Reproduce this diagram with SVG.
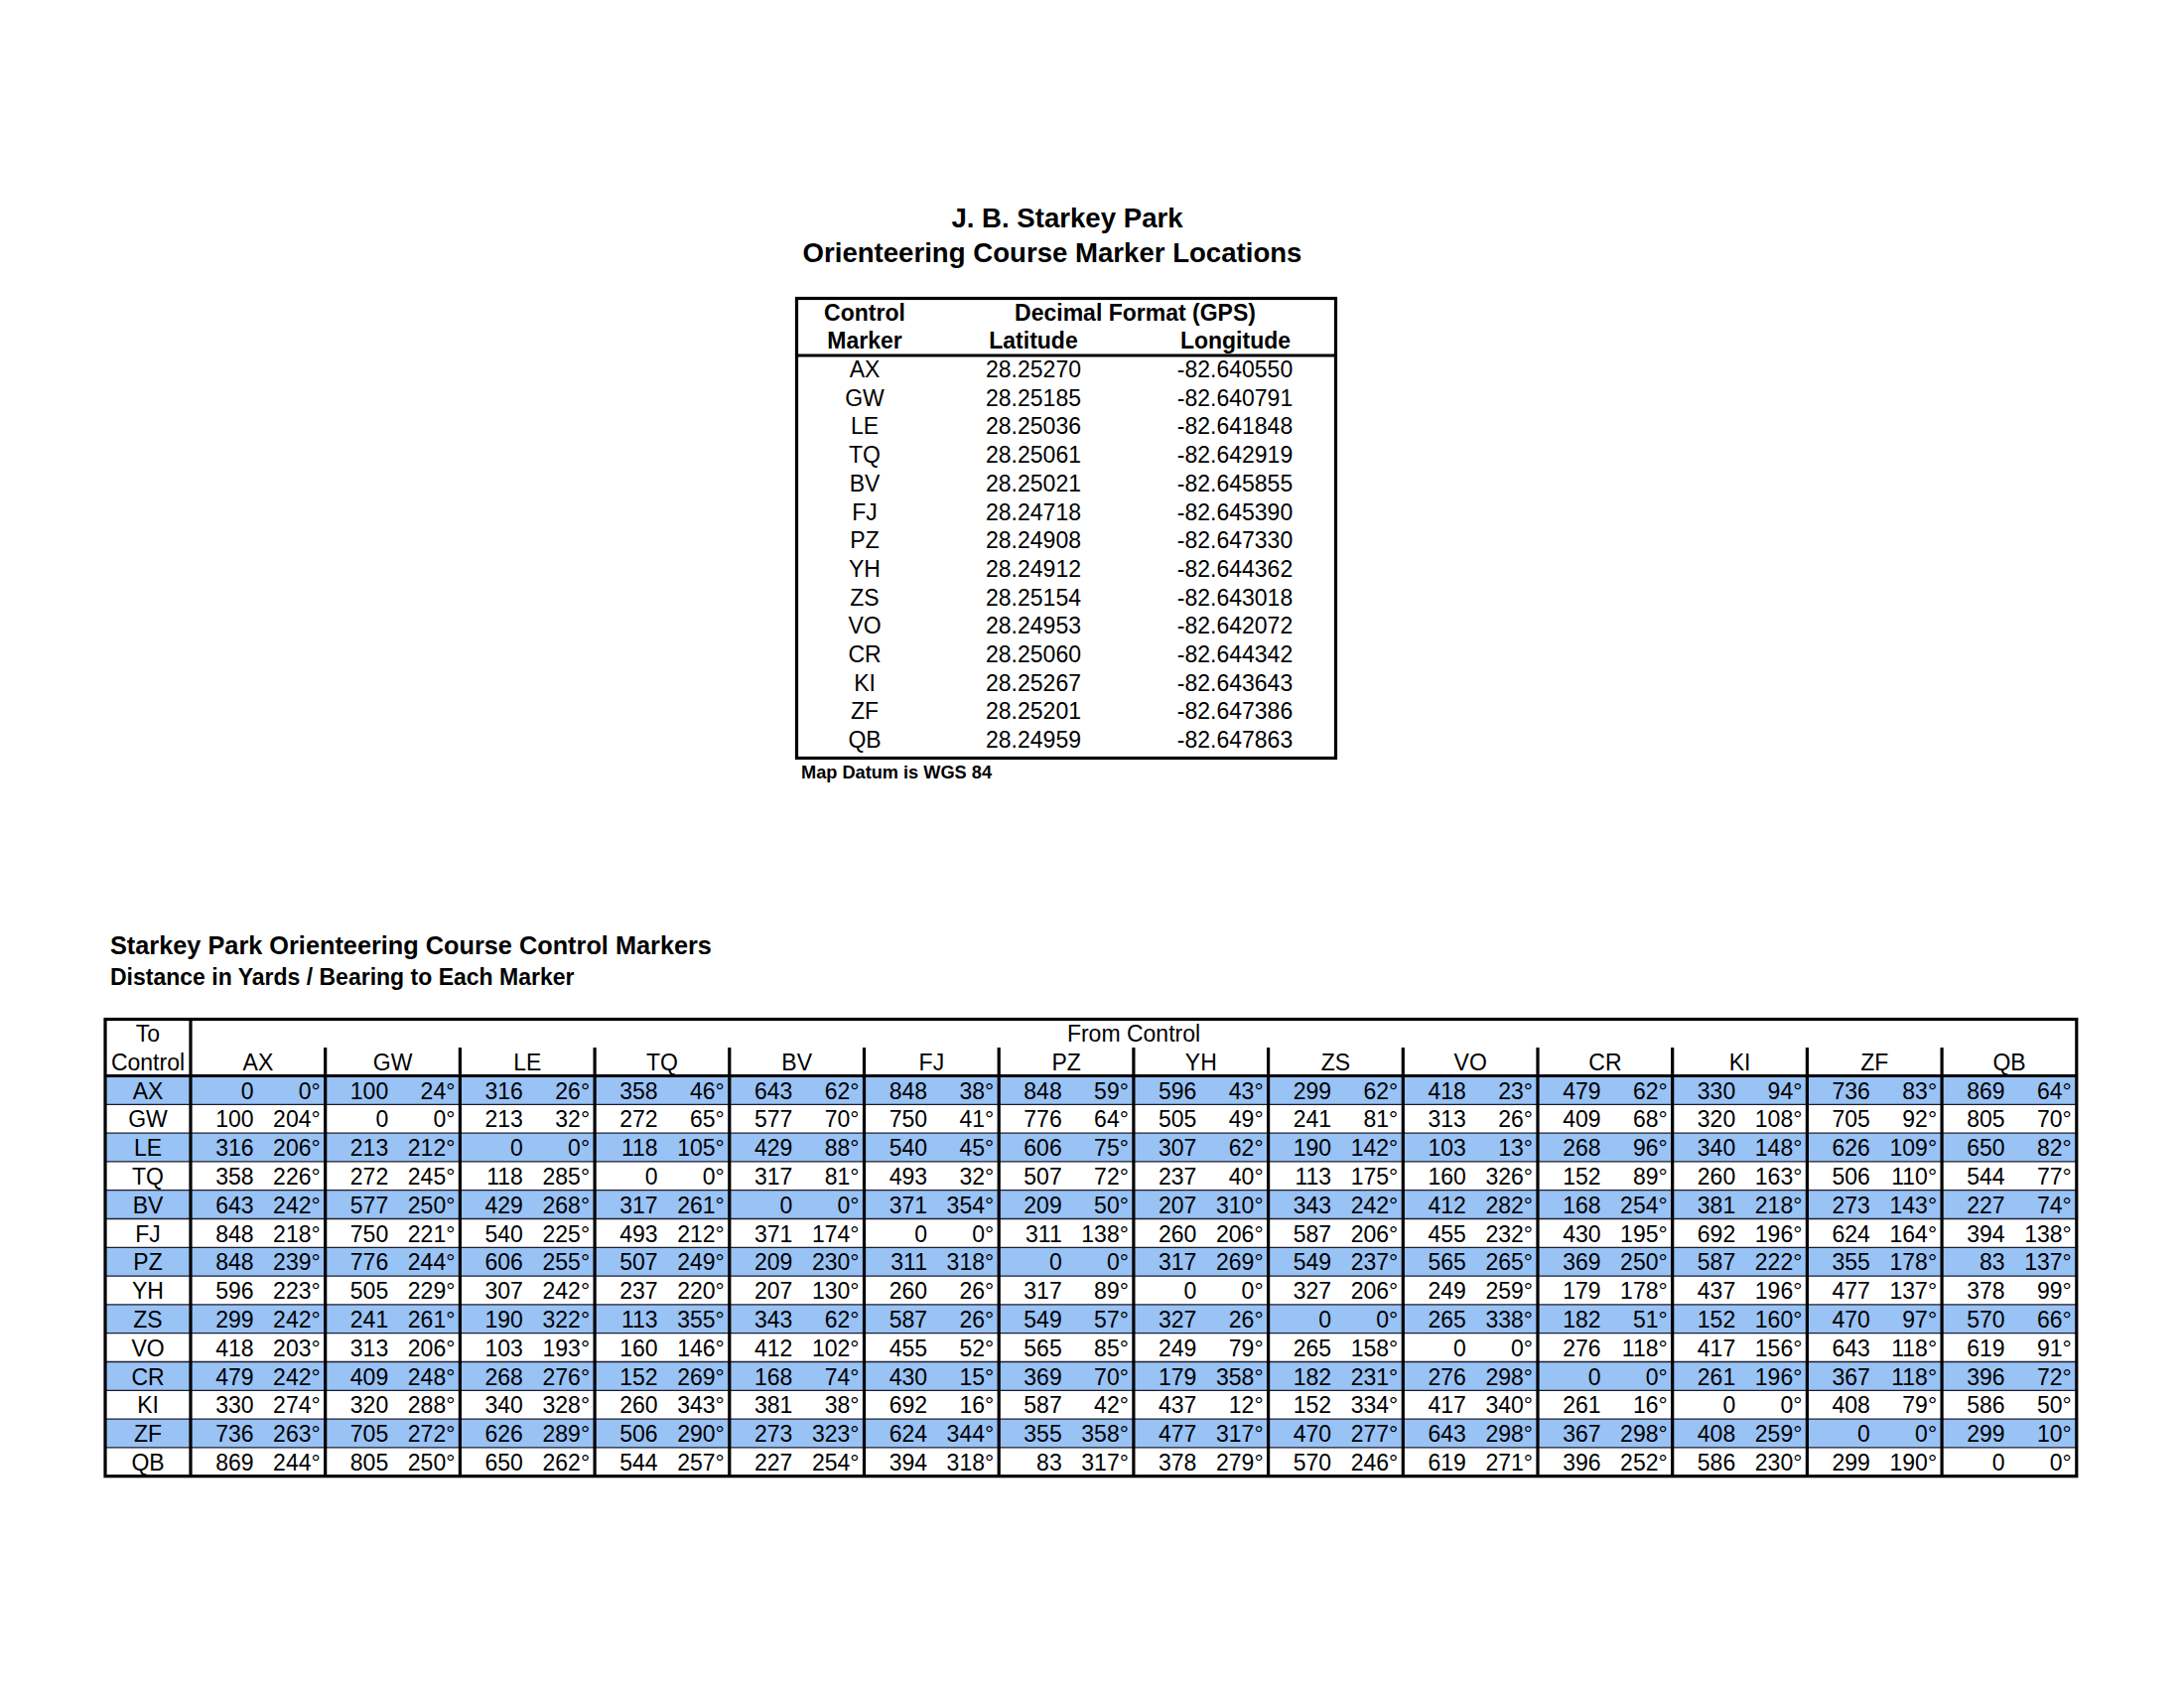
<svg xmlns="http://www.w3.org/2000/svg" width="2200" height="1699" viewBox="0 0 2200 1699">
<style>
text{font-family:"Liberation Sans",Arial,sans-serif;fill:#000}
.t1{font-size:27.6px;font-weight:bold;text-anchor:middle}
.t2{font-size:25.3px;font-weight:bold}
.t3{font-size:23px;font-weight:bold}
.hb{font-size:23px;font-weight:bold;text-anchor:middle}
.c{font-size:23px;text-anchor:middle}
.d{font-size:23px;text-anchor:end}
.sm{font-size:18.2px;font-weight:bold}
.blue{fill:#99C2F5}
.thin{stroke:#1c1c2c;stroke-width:1.3;fill:none}
.thick{stroke:#000;stroke-width:3.2;fill:none}
</style>
<rect width="2200" height="1699" fill="#fff"/>

<g id="title">
<text class="t1" x="1075" y="229">J. B. Starkey Park</text>
<text class="t1" x="1060" y="264">Orienteering Course Marker Locations</text>
</g>

<g id="location-table">
<rect class="thick" x="802.5" y="300.5" width="543" height="463"/>
<line class="thick" x1="802.5" y1="358" x2="1345.5" y2="358"/>
<text class="hb" x="871" y="322.5">Control</text>
<text class="hb" x="1143.5" y="322.5">Decimal Format (GPS)</text>
<text class="hb" x="871" y="351">Marker</text>
<text class="hb" x="1041" y="351">Latitude</text>
<text class="hb" x="1244.5" y="351">Longitude</text>
<g id="loc-rows">
<text class="c" y="380"><tspan x="871">AX</tspan><tspan x="1041">28.25270</tspan><tspan x="1244">-82.640550</tspan></text>
<text class="c" y="408.7"><tspan x="871">GW</tspan><tspan x="1041">28.25185</tspan><tspan x="1244">-82.640791</tspan></text>
<text class="c" y="437.4"><tspan x="871">LE</tspan><tspan x="1041">28.25036</tspan><tspan x="1244">-82.641848</tspan></text>
<text class="c" y="466.1"><tspan x="871">TQ</tspan><tspan x="1041">28.25061</tspan><tspan x="1244">-82.642919</tspan></text>
<text class="c" y="494.8"><tspan x="871">BV</tspan><tspan x="1041">28.25021</tspan><tspan x="1244">-82.645855</tspan></text>
<text class="c" y="523.5"><tspan x="871">FJ</tspan><tspan x="1041">28.24718</tspan><tspan x="1244">-82.645390</tspan></text>
<text class="c" y="552.2"><tspan x="871">PZ</tspan><tspan x="1041">28.24908</tspan><tspan x="1244">-82.647330</tspan></text>
<text class="c" y="580.9"><tspan x="871">YH</tspan><tspan x="1041">28.24912</tspan><tspan x="1244">-82.644362</tspan></text>
<text class="c" y="609.6"><tspan x="871">ZS</tspan><tspan x="1041">28.25154</tspan><tspan x="1244">-82.643018</tspan></text>
<text class="c" y="638.3"><tspan x="871">VO</tspan><tspan x="1041">28.24953</tspan><tspan x="1244">-82.642072</tspan></text>
<text class="c" y="667"><tspan x="871">CR</tspan><tspan x="1041">28.25060</tspan><tspan x="1244">-82.644342</tspan></text>
<text class="c" y="695.7"><tspan x="871">KI</tspan><tspan x="1041">28.25267</tspan><tspan x="1244">-82.643643</tspan></text>
<text class="c" y="724.4"><tspan x="871">ZF</tspan><tspan x="1041">28.25201</tspan><tspan x="1244">-82.647386</tspan></text>
<text class="c" y="753.1"><tspan x="871">QB</tspan><tspan x="1041">28.24959</tspan><tspan x="1244">-82.647863</tspan></text>
</g>
<text class="sm" x="807" y="784">Map Datum is WGS 84</text>
</g>

<g id="distance-title">
<text class="t2" x="111" y="961">Starkey Park Orienteering Course Control Markers</text>
<text class="t3" x="111" y="992">Distance in Yards / Bearing to Each Marker</text>
</g>

<g id="distance-table">
<g id="stripes">
<rect class="blue" x="106" y="1083.5" width="1986" height="28.8"/>
<rect class="blue" x="106" y="1141.1" width="1986" height="28.8"/>
<rect class="blue" x="106" y="1198.7" width="1986" height="28.8"/>
<rect class="blue" x="106" y="1256.3" width="1986" height="28.8"/>
<rect class="blue" x="106" y="1313.9" width="1986" height="28.8"/>
<rect class="blue" x="106" y="1371.5" width="1986" height="28.8"/>
<rect class="blue" x="106" y="1429.1" width="1986" height="28.8"/>
</g>
<g id="row-lines">
<path class="thin" d="M106 1112.3H2092M106 1141.1H2092M106 1169.9H2092M106 1198.7H2092M106 1227.5H2092M106 1256.3H2092M106 1285.1H2092M106 1313.9H2092M106 1342.7H2092M106 1371.5H2092M106 1400.3H2092M106 1429.1H2092M106 1457.9H2092"/>
</g>
<g id="grid">
<rect class="thick" x="106" y="1026.5" width="1985.8" height="460.2"/>
<line class="thick" x1="106" y1="1083.5" x2="2092" y2="1083.5"/>
<path class="thick" d="M192 1026.5V1486.7M327.7 1055V1486.7M463.4 1055V1486.7M599.1 1055V1486.7M734.8 1055V1486.7M870.5 1055V1486.7M1006.2 1055V1486.7M1141.9 1055V1486.7M1277.6 1055V1486.7M1413.3 1055V1486.7M1549 1055V1486.7M1684.7 1055V1486.7M1820.4 1055V1486.7M1956.1 1055V1486.7"/>
</g>
<g id="headers">
<text class="c" x="149" y="1049">To</text>
<text class="c" x="1142" y="1049">From Control</text>
<text class="c" x="149" y="1078">Control</text>
<text class="c" y="1078"><tspan x="259.9">AX</tspan><tspan x="395.6">GW</tspan><tspan x="531.3">LE</tspan><tspan x="667">TQ</tspan><tspan x="802.7">BV</tspan><tspan x="938.4">FJ</tspan><tspan x="1074.1">PZ</tspan><tspan x="1209.8">YH</tspan><tspan x="1345.5">ZS</tspan><tspan x="1481.2">VO</tspan><tspan x="1616.9">CR</tspan><tspan x="1752.6">KI</tspan><tspan x="1888.3">ZF</tspan><tspan x="2024">QB</tspan></text>
</g>
<g id="row-labels">
<text class="c" x="149" y="1106.5">AX</text>
<text class="c" x="149" y="1135.3">GW</text>
<text class="c" x="149" y="1164.1">LE</text>
<text class="c" x="149" y="1192.9">TQ</text>
<text class="c" x="149" y="1221.7">BV</text>
<text class="c" x="149" y="1250.5">FJ</text>
<text class="c" x="149" y="1279.3">PZ</text>
<text class="c" x="149" y="1308.1">YH</text>
<text class="c" x="149" y="1336.9">ZS</text>
<text class="c" x="149" y="1365.7">VO</text>
<text class="c" x="149" y="1394.5">CR</text>
<text class="c" x="149" y="1423.3">KI</text>
<text class="c" x="149" y="1452.1">ZF</text>
<text class="c" x="149" y="1480.9">QB</text>
</g>
<g id="cells">
<text class="d" y="1106.5"><tspan x="255.5">0</tspan><tspan x="322.7">0°</tspan><tspan x="391.2">100</tspan><tspan x="458.4">24°</tspan><tspan x="526.9">316</tspan><tspan x="594.1">26°</tspan><tspan x="662.6">358</tspan><tspan x="729.8">46°</tspan><tspan x="798.3">643</tspan><tspan x="865.5">62°</tspan><tspan x="934">848</tspan><tspan x="1001.2">38°</tspan><tspan x="1069.7">848</tspan><tspan x="1136.9">59°</tspan><tspan x="1205.4">596</tspan><tspan x="1272.6">43°</tspan><tspan x="1341.1">299</tspan><tspan x="1408.3">62°</tspan><tspan x="1476.8">418</tspan><tspan x="1544">23°</tspan><tspan x="1612.5">479</tspan><tspan x="1679.7">62°</tspan><tspan x="1748.2">330</tspan><tspan x="1815.4">94°</tspan><tspan x="1883.9">736</tspan><tspan x="1951.1">83°</tspan><tspan x="2019.6">869</tspan><tspan x="2086.8">64°</tspan></text>
<text class="d" y="1135.3"><tspan x="255.5">100</tspan><tspan x="322.7">204°</tspan><tspan x="391.2">0</tspan><tspan x="458.4">0°</tspan><tspan x="526.9">213</tspan><tspan x="594.1">32°</tspan><tspan x="662.6">272</tspan><tspan x="729.8">65°</tspan><tspan x="798.3">577</tspan><tspan x="865.5">70°</tspan><tspan x="934">750</tspan><tspan x="1001.2">41°</tspan><tspan x="1069.7">776</tspan><tspan x="1136.9">64°</tspan><tspan x="1205.4">505</tspan><tspan x="1272.6">49°</tspan><tspan x="1341.1">241</tspan><tspan x="1408.3">81°</tspan><tspan x="1476.8">313</tspan><tspan x="1544">26°</tspan><tspan x="1612.5">409</tspan><tspan x="1679.7">68°</tspan><tspan x="1748.2">320</tspan><tspan x="1815.4">108°</tspan><tspan x="1883.9">705</tspan><tspan x="1951.1">92°</tspan><tspan x="2019.6">805</tspan><tspan x="2086.8">70°</tspan></text>
<text class="d" y="1164.1"><tspan x="255.5">316</tspan><tspan x="322.7">206°</tspan><tspan x="391.2">213</tspan><tspan x="458.4">212°</tspan><tspan x="526.9">0</tspan><tspan x="594.1">0°</tspan><tspan x="662.6">118</tspan><tspan x="729.8">105°</tspan><tspan x="798.3">429</tspan><tspan x="865.5">88°</tspan><tspan x="934">540</tspan><tspan x="1001.2">45°</tspan><tspan x="1069.7">606</tspan><tspan x="1136.9">75°</tspan><tspan x="1205.4">307</tspan><tspan x="1272.6">62°</tspan><tspan x="1341.1">190</tspan><tspan x="1408.3">142°</tspan><tspan x="1476.8">103</tspan><tspan x="1544">13°</tspan><tspan x="1612.5">268</tspan><tspan x="1679.7">96°</tspan><tspan x="1748.2">340</tspan><tspan x="1815.4">148°</tspan><tspan x="1883.9">626</tspan><tspan x="1951.1">109°</tspan><tspan x="2019.6">650</tspan><tspan x="2086.8">82°</tspan></text>
<text class="d" y="1192.9"><tspan x="255.5">358</tspan><tspan x="322.7">226°</tspan><tspan x="391.2">272</tspan><tspan x="458.4">245°</tspan><tspan x="526.9">118</tspan><tspan x="594.1">285°</tspan><tspan x="662.6">0</tspan><tspan x="729.8">0°</tspan><tspan x="798.3">317</tspan><tspan x="865.5">81°</tspan><tspan x="934">493</tspan><tspan x="1001.2">32°</tspan><tspan x="1069.7">507</tspan><tspan x="1136.9">72°</tspan><tspan x="1205.4">237</tspan><tspan x="1272.6">40°</tspan><tspan x="1341.1">113</tspan><tspan x="1408.3">175°</tspan><tspan x="1476.8">160</tspan><tspan x="1544">326°</tspan><tspan x="1612.5">152</tspan><tspan x="1679.7">89°</tspan><tspan x="1748.2">260</tspan><tspan x="1815.4">163°</tspan><tspan x="1883.9">506</tspan><tspan x="1951.1">110°</tspan><tspan x="2019.6">544</tspan><tspan x="2086.8">77°</tspan></text>
<text class="d" y="1221.7"><tspan x="255.5">643</tspan><tspan x="322.7">242°</tspan><tspan x="391.2">577</tspan><tspan x="458.4">250°</tspan><tspan x="526.9">429</tspan><tspan x="594.1">268°</tspan><tspan x="662.6">317</tspan><tspan x="729.8">261°</tspan><tspan x="798.3">0</tspan><tspan x="865.5">0°</tspan><tspan x="934">371</tspan><tspan x="1001.2">354°</tspan><tspan x="1069.7">209</tspan><tspan x="1136.9">50°</tspan><tspan x="1205.4">207</tspan><tspan x="1272.6">310°</tspan><tspan x="1341.1">343</tspan><tspan x="1408.3">242°</tspan><tspan x="1476.8">412</tspan><tspan x="1544">282°</tspan><tspan x="1612.5">168</tspan><tspan x="1679.7">254°</tspan><tspan x="1748.2">381</tspan><tspan x="1815.4">218°</tspan><tspan x="1883.9">273</tspan><tspan x="1951.1">143°</tspan><tspan x="2019.6">227</tspan><tspan x="2086.8">74°</tspan></text>
<text class="d" y="1250.5"><tspan x="255.5">848</tspan><tspan x="322.7">218°</tspan><tspan x="391.2">750</tspan><tspan x="458.4">221°</tspan><tspan x="526.9">540</tspan><tspan x="594.1">225°</tspan><tspan x="662.6">493</tspan><tspan x="729.8">212°</tspan><tspan x="798.3">371</tspan><tspan x="865.5">174°</tspan><tspan x="934">0</tspan><tspan x="1001.2">0°</tspan><tspan x="1069.7">311</tspan><tspan x="1136.9">138°</tspan><tspan x="1205.4">260</tspan><tspan x="1272.6">206°</tspan><tspan x="1341.1">587</tspan><tspan x="1408.3">206°</tspan><tspan x="1476.8">455</tspan><tspan x="1544">232°</tspan><tspan x="1612.5">430</tspan><tspan x="1679.7">195°</tspan><tspan x="1748.2">692</tspan><tspan x="1815.4">196°</tspan><tspan x="1883.9">624</tspan><tspan x="1951.1">164°</tspan><tspan x="2019.6">394</tspan><tspan x="2086.8">138°</tspan></text>
<text class="d" y="1279.3"><tspan x="255.5">848</tspan><tspan x="322.7">239°</tspan><tspan x="391.2">776</tspan><tspan x="458.4">244°</tspan><tspan x="526.9">606</tspan><tspan x="594.1">255°</tspan><tspan x="662.6">507</tspan><tspan x="729.8">249°</tspan><tspan x="798.3">209</tspan><tspan x="865.5">230°</tspan><tspan x="934">311</tspan><tspan x="1001.2">318°</tspan><tspan x="1069.7">0</tspan><tspan x="1136.9">0°</tspan><tspan x="1205.4">317</tspan><tspan x="1272.6">269°</tspan><tspan x="1341.1">549</tspan><tspan x="1408.3">237°</tspan><tspan x="1476.8">565</tspan><tspan x="1544">265°</tspan><tspan x="1612.5">369</tspan><tspan x="1679.7">250°</tspan><tspan x="1748.2">587</tspan><tspan x="1815.4">222°</tspan><tspan x="1883.9">355</tspan><tspan x="1951.1">178°</tspan><tspan x="2019.6">83</tspan><tspan x="2086.8">137°</tspan></text>
<text class="d" y="1308.1"><tspan x="255.5">596</tspan><tspan x="322.7">223°</tspan><tspan x="391.2">505</tspan><tspan x="458.4">229°</tspan><tspan x="526.9">307</tspan><tspan x="594.1">242°</tspan><tspan x="662.6">237</tspan><tspan x="729.8">220°</tspan><tspan x="798.3">207</tspan><tspan x="865.5">130°</tspan><tspan x="934">260</tspan><tspan x="1001.2">26°</tspan><tspan x="1069.7">317</tspan><tspan x="1136.9">89°</tspan><tspan x="1205.4">0</tspan><tspan x="1272.6">0°</tspan><tspan x="1341.1">327</tspan><tspan x="1408.3">206°</tspan><tspan x="1476.8">249</tspan><tspan x="1544">259°</tspan><tspan x="1612.5">179</tspan><tspan x="1679.7">178°</tspan><tspan x="1748.2">437</tspan><tspan x="1815.4">196°</tspan><tspan x="1883.9">477</tspan><tspan x="1951.1">137°</tspan><tspan x="2019.6">378</tspan><tspan x="2086.8">99°</tspan></text>
<text class="d" y="1336.9"><tspan x="255.5">299</tspan><tspan x="322.7">242°</tspan><tspan x="391.2">241</tspan><tspan x="458.4">261°</tspan><tspan x="526.9">190</tspan><tspan x="594.1">322°</tspan><tspan x="662.6">113</tspan><tspan x="729.8">355°</tspan><tspan x="798.3">343</tspan><tspan x="865.5">62°</tspan><tspan x="934">587</tspan><tspan x="1001.2">26°</tspan><tspan x="1069.7">549</tspan><tspan x="1136.9">57°</tspan><tspan x="1205.4">327</tspan><tspan x="1272.6">26°</tspan><tspan x="1341.1">0</tspan><tspan x="1408.3">0°</tspan><tspan x="1476.8">265</tspan><tspan x="1544">338°</tspan><tspan x="1612.5">182</tspan><tspan x="1679.7">51°</tspan><tspan x="1748.2">152</tspan><tspan x="1815.4">160°</tspan><tspan x="1883.9">470</tspan><tspan x="1951.1">97°</tspan><tspan x="2019.6">570</tspan><tspan x="2086.8">66°</tspan></text>
<text class="d" y="1365.7"><tspan x="255.5">418</tspan><tspan x="322.7">203°</tspan><tspan x="391.2">313</tspan><tspan x="458.4">206°</tspan><tspan x="526.9">103</tspan><tspan x="594.1">193°</tspan><tspan x="662.6">160</tspan><tspan x="729.8">146°</tspan><tspan x="798.3">412</tspan><tspan x="865.5">102°</tspan><tspan x="934">455</tspan><tspan x="1001.2">52°</tspan><tspan x="1069.7">565</tspan><tspan x="1136.9">85°</tspan><tspan x="1205.4">249</tspan><tspan x="1272.6">79°</tspan><tspan x="1341.1">265</tspan><tspan x="1408.3">158°</tspan><tspan x="1476.8">0</tspan><tspan x="1544">0°</tspan><tspan x="1612.5">276</tspan><tspan x="1679.7">118°</tspan><tspan x="1748.2">417</tspan><tspan x="1815.4">156°</tspan><tspan x="1883.9">643</tspan><tspan x="1951.1">118°</tspan><tspan x="2019.6">619</tspan><tspan x="2086.8">91°</tspan></text>
<text class="d" y="1394.5"><tspan x="255.5">479</tspan><tspan x="322.7">242°</tspan><tspan x="391.2">409</tspan><tspan x="458.4">248°</tspan><tspan x="526.9">268</tspan><tspan x="594.1">276°</tspan><tspan x="662.6">152</tspan><tspan x="729.8">269°</tspan><tspan x="798.3">168</tspan><tspan x="865.5">74°</tspan><tspan x="934">430</tspan><tspan x="1001.2">15°</tspan><tspan x="1069.7">369</tspan><tspan x="1136.9">70°</tspan><tspan x="1205.4">179</tspan><tspan x="1272.6">358°</tspan><tspan x="1341.1">182</tspan><tspan x="1408.3">231°</tspan><tspan x="1476.8">276</tspan><tspan x="1544">298°</tspan><tspan x="1612.5">0</tspan><tspan x="1679.7">0°</tspan><tspan x="1748.2">261</tspan><tspan x="1815.4">196°</tspan><tspan x="1883.9">367</tspan><tspan x="1951.1">118°</tspan><tspan x="2019.6">396</tspan><tspan x="2086.8">72°</tspan></text>
<text class="d" y="1423.3"><tspan x="255.5">330</tspan><tspan x="322.7">274°</tspan><tspan x="391.2">320</tspan><tspan x="458.4">288°</tspan><tspan x="526.9">340</tspan><tspan x="594.1">328°</tspan><tspan x="662.6">260</tspan><tspan x="729.8">343°</tspan><tspan x="798.3">381</tspan><tspan x="865.5">38°</tspan><tspan x="934">692</tspan><tspan x="1001.2">16°</tspan><tspan x="1069.7">587</tspan><tspan x="1136.9">42°</tspan><tspan x="1205.4">437</tspan><tspan x="1272.6">12°</tspan><tspan x="1341.1">152</tspan><tspan x="1408.3">334°</tspan><tspan x="1476.8">417</tspan><tspan x="1544">340°</tspan><tspan x="1612.5">261</tspan><tspan x="1679.7">16°</tspan><tspan x="1748.2">0</tspan><tspan x="1815.4">0°</tspan><tspan x="1883.9">408</tspan><tspan x="1951.1">79°</tspan><tspan x="2019.6">586</tspan><tspan x="2086.8">50°</tspan></text>
<text class="d" y="1452.1"><tspan x="255.5">736</tspan><tspan x="322.7">263°</tspan><tspan x="391.2">705</tspan><tspan x="458.4">272°</tspan><tspan x="526.9">626</tspan><tspan x="594.1">289°</tspan><tspan x="662.6">506</tspan><tspan x="729.8">290°</tspan><tspan x="798.3">273</tspan><tspan x="865.5">323°</tspan><tspan x="934">624</tspan><tspan x="1001.2">344°</tspan><tspan x="1069.7">355</tspan><tspan x="1136.9">358°</tspan><tspan x="1205.4">477</tspan><tspan x="1272.6">317°</tspan><tspan x="1341.1">470</tspan><tspan x="1408.3">277°</tspan><tspan x="1476.8">643</tspan><tspan x="1544">298°</tspan><tspan x="1612.5">367</tspan><tspan x="1679.7">298°</tspan><tspan x="1748.2">408</tspan><tspan x="1815.4">259°</tspan><tspan x="1883.9">0</tspan><tspan x="1951.1">0°</tspan><tspan x="2019.6">299</tspan><tspan x="2086.8">10°</tspan></text>
<text class="d" y="1480.9"><tspan x="255.5">869</tspan><tspan x="322.7">244°</tspan><tspan x="391.2">805</tspan><tspan x="458.4">250°</tspan><tspan x="526.9">650</tspan><tspan x="594.1">262°</tspan><tspan x="662.6">544</tspan><tspan x="729.8">257°</tspan><tspan x="798.3">227</tspan><tspan x="865.5">254°</tspan><tspan x="934">394</tspan><tspan x="1001.2">318°</tspan><tspan x="1069.7">83</tspan><tspan x="1136.9">317°</tspan><tspan x="1205.4">378</tspan><tspan x="1272.6">279°</tspan><tspan x="1341.1">570</tspan><tspan x="1408.3">246°</tspan><tspan x="1476.8">619</tspan><tspan x="1544">271°</tspan><tspan x="1612.5">396</tspan><tspan x="1679.7">252°</tspan><tspan x="1748.2">586</tspan><tspan x="1815.4">230°</tspan><tspan x="1883.9">299</tspan><tspan x="1951.1">190°</tspan><tspan x="2019.6">0</tspan><tspan x="2086.8">0°</tspan></text>
</g>
</g>
</svg>
